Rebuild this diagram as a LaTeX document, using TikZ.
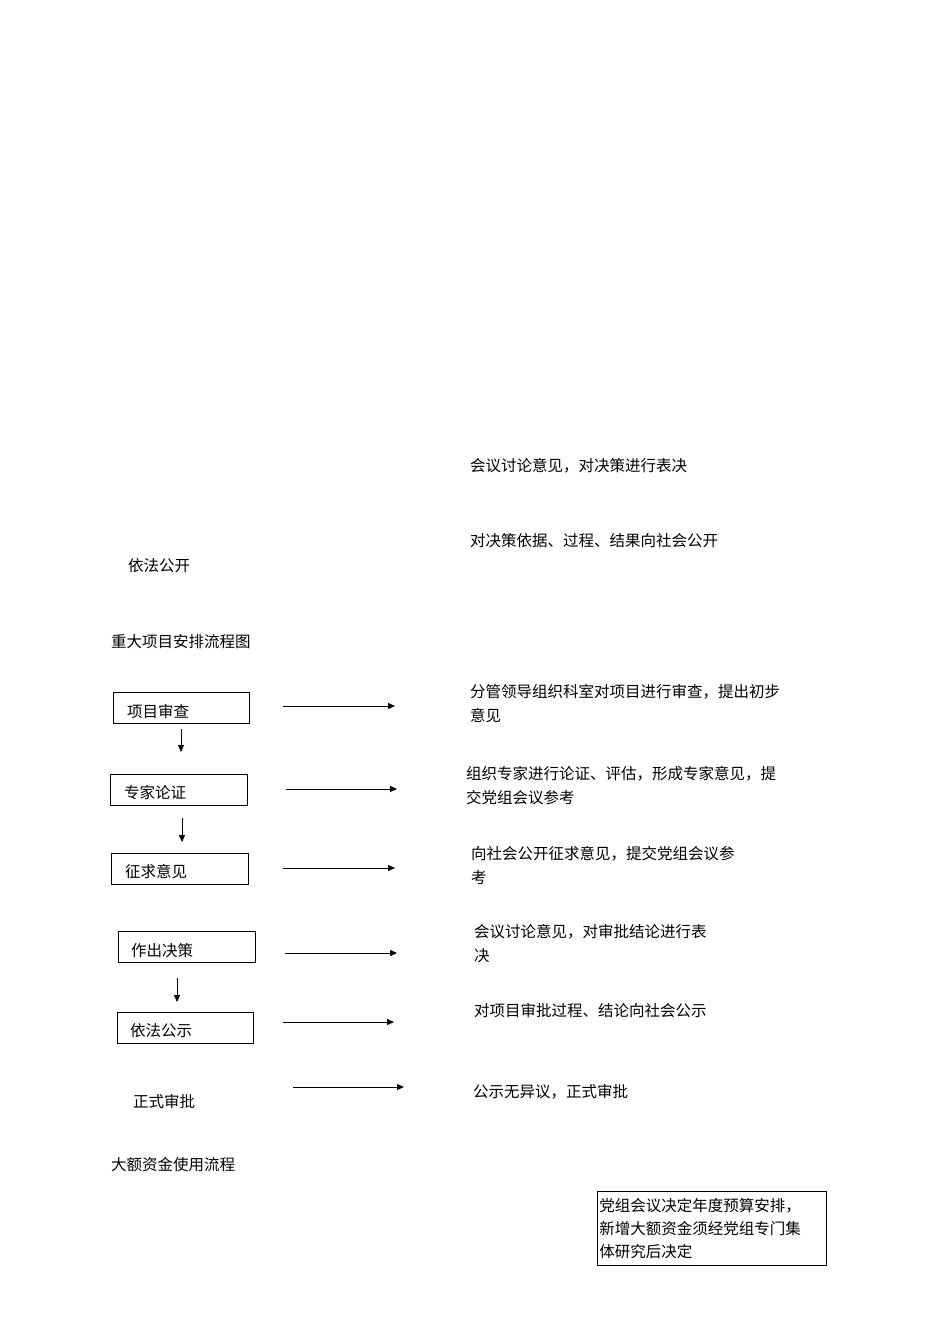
\documentclass[tikz,border=0pt]{standalone}
\usepackage{fontspec}
\setmainfont{Noto Sans CJK SC}
\usetikzlibrary{arrows.meta}
\begin{document}
\begin{tikzpicture}[x=1pt,y=-1pt,font=\fontsize{15.5}{24}\selectfont,
 bx/.style={draw,line width=0.8pt,minimum height=31pt,anchor=north west,inner sep=0pt},
 tx/.style={anchor=west,inner sep=0pt},
 ar/.style={-{Triangle[length=7pt,width=6pt]},line width=1pt}]
\useasboundingbox (0,0) rectangle (950,1344);
\node[tx] (t1) at (470,466) {会议讨论意见，对决策进行表决};
\node[tx] (t2) at (470,541) {对决策依据、过程、结果向社会公开};
\node[tx] (t3) at (128,566) {依法公开};
\node[tx] (t4) at (111,642) {重大项目安排流程图};
\foreach \n/\x/\y/\w/\t in {b1/113/692/136/项目审查, b2/110/774/137/专家论证, b3/111/853/137/征求意见, b4/118/931/137/作出决策, b5/117/1012/136/依法公示}
 \node[bx,minimum width=\w pt] (\n) at (\x,\y) {};
\node[tx] at (127,712) {项目审查};
\node[tx] at (124,793) {专家论证};
\node[tx] at (125,872) {征求意见};
\node[tx] at (131,951) {作出决策};
\node[tx] at (130,1031) {依法公示};
\node[tx] (b6) at (133,1102) {正式审批};
\foreach \a/\ya/\xb/\yb/\n in {283/706/395/706/a, 286/789/397/789/b, 283/868/395/868/c, 285/953/397/953/d, 283/1022/394/1022/e, 293/1087/404/1087/f}{
 \coordinate (s\n) at (\a,\ya); \coordinate (e\n) at (\xb,\yb);
 \draw[ar] (s\n) -- (e\n);}
\foreach \x/\ya/\yb/\n in {181/729/752/g, 182/818/842/h, 177/978/1002/i}{
 \coordinate (s\n) at (\x,\ya); \coordinate (e\n) at (\x,\yb);
 \draw[ar] (s\n) -- (e\n);}
\node[tx,align=left] at (470,704) {分管领导组织科室对项目进行审查，提出初步\\意见};
\node[tx,align=left] at (466,786) {组织专家进行论证、评估，形成专家意见，提\\交党组会议参考};
\node[tx,align=left] at (471,865) {向社会公开征求意见，提交党组会议参\\考};
\node[tx,align=left] at (474,944) {会议讨论意见，对审批结论进行表\\决};
\node[tx] at (474,1011) {对项目审批过程、结论向社会公示};
\node[tx] at (473,1092) {公示无异议，正式审批};
\node[tx] at (111,1165) {大额资金使用流程};
\node[draw,line width=0.7pt,anchor=north west,minimum width=229pt,minimum height=74pt,inner sep=2pt,align=left,text width=225pt] (fb) at (597,1191) {党组会议决定年度预算安排，\\[-1pt]新增大额资金须经党组专门集\\[-1pt]体研究后决定};
\end{tikzpicture}
\end{document}
